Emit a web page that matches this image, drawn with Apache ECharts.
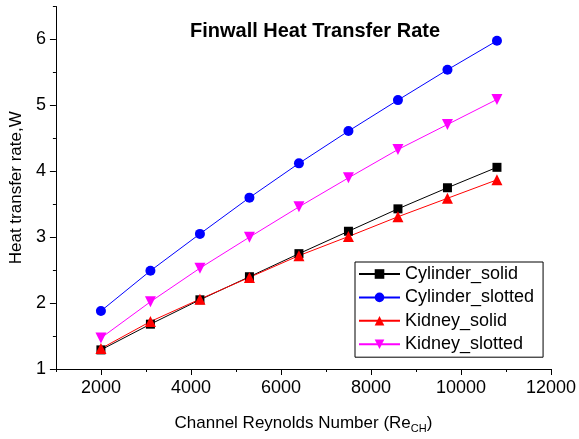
<!DOCTYPE html>
<html>
<head>
<meta charset="utf-8">
<script src="https://cdn.jsdelivr.net/npm/echarts@6/dist/echarts.min.js"></script>
<style>html,body{margin:0;padding:0;background:#fff}#c{width:579px;height:439px}</style>
</head>
<body>
<div id="c"></div>
<script>
var reynolds = [2000, 3100, 4200, 5300, 6400, 7500, 8600, 9700, 10800];
var cylinderSolid = [1.29, 1.68, 2.05, 2.40, 2.75, 3.09, 3.43, 3.75, 4.06];
var cylinderSlotted = [1.88, 2.49, 3.05, 3.60, 4.12, 4.61, 5.08, 5.54, 5.98];
var kidneySolid = [1.31, 1.72, 2.06, 2.39, 2.72, 3.01, 3.31, 3.59, 3.87];
var kidneySlotted = [1.47, 2.02, 2.53, 3.00, 3.46, 3.90, 4.33, 4.71, 5.09];
var xMajorTicks = [2000, 4000, 6000, 8000, 10000, 12000];
var xMinorTicks = [1000, 3000, 5000, 7000, 9000, 11000];
var yMajorTicks = [1, 2, 3, 4, 5, 6];
var yMinorTicks = [1.5, 2.5, 3.5, 4.5, 5.5, 6.5];

function pairs(vals) { return reynolds.map(function (x, i) { return [x, vals[i]]; }); }

var font = '"Liberation Sans", Arial, sans-serif';
var chart = echarts.init(document.getElementById('c'));
var axisLine = { show: true, lineStyle: { color: '#000', width: 1 } };
chart.setOption({
  animation: false,
  textStyle: { fontFamily: font },
  title: {
    text: 'Finwall Heat Transfer Rate',
    left: 310, top: 16, textAlign: 'center',
    textStyle: { fontFamily: font, fontSize: 20, fontWeight: 'bold', color: '#000' }
  },
  grid: { left: 55, right: 27, top: 6.5, bottom: 64, containLabel: false },
  legend: {
    orient: 'vertical', left: 355, top: 262,
    itemWidth: 41, itemHeight: 12, itemGap: 5.4,
    padding: [3, 9, 4, 3],
    borderColor: '#000', borderWidth: 1,
    textStyle: { fontFamily: font, fontSize: 18, lineHeight: 18, color: '#000' },
    data: ['Cylinder_solid', 'Cylinder_slotted', 'Kidney_solid', 'Kidney_slotted']
  },
  xAxis: [{
    type: 'value', min: 1000, max: 12000, interval: 1000,
    axisLine: axisLine,
    axisTick: { show: true, length: 6, customValues: xMajorTicks, lineStyle: { color: '#000' } },
    axisLabel: { customValues: xMajorTicks, fontSize: 18, color: '#000', margin: 10, fontFamily: font,
      formatter: function (v) { return String(v); } },
    splitLine: { show: false },
    name: 'Channel Reynolds Number (Re{sub|CH})',
    nameLocation: 'middle', nameGap: 44,
    nameTextStyle: { fontSize: 17, color: '#000', fontFamily: font,
      rich: { sub: { fontSize: 11, color: '#000', fontFamily: font, padding: [10, 0, 0, 0] } } }
  }, {
    type: 'value', min: 1000, max: 12000, interval: 1000, position: 'bottom',
    axisLine: { show: false },
    axisTick: { show: true, length: 3, customValues: xMinorTicks, lineStyle: { color: '#000' } },
    axisLabel: { show: false }, splitLine: { show: false }
  }],
  yAxis: [{
    type: 'value', min: 1, max: 6.5, interval: 1,
    axisLine: axisLine,
    axisTick: { show: true, length: 6, customValues: yMajorTicks, lineStyle: { color: '#000' } },
    axisLabel: { customValues: yMajorTicks, fontSize: 18, color: '#000', margin: 10, fontFamily: font },
    splitLine: { show: false },
    name: 'Heat transfer rate,W',
    nameLocation: 'middle', nameGap: 19,
    nameTextStyle: { fontSize: 17, color: '#000', fontFamily: font }
  }, {
    type: 'value', min: 1, max: 6.5, interval: 1, position: 'left',
    axisLine: { show: false },
    axisTick: { show: true, length: 3, customValues: yMinorTicks, lineStyle: { color: '#000' } },
    axisLabel: { show: false }, splitLine: { show: false }
  }],
  series: [
    { name: 'Cylinder_solid', type: 'line', data: pairs(cylinderSolid), symbol: 'rect', symbolSize: 9,
      itemStyle: { color: '#000' }, lineStyle: { color: '#000', width: 1 } },
    { name: 'Cylinder_slotted', type: 'line', data: pairs(cylinderSlotted), symbol: 'circle', symbolSize: 10,
      itemStyle: { color: '#0000ff' }, lineStyle: { color: '#0000ff', width: 1 } },
    { name: 'Kidney_solid', type: 'line', data: pairs(kidneySolid), symbol: 'triangle', symbolSize: 11,
      itemStyle: { color: '#ff0000' }, lineStyle: { color: '#ff0000', width: 1 } },
    { name: 'Kidney_slotted', type: 'line', data: pairs(kidneySlotted), symbol: 'triangle', symbolRotate: 180, symbolSize: 11,
      itemStyle: { color: '#ff00ff' }, lineStyle: { color: '#ff00ff', width: 1 } }
  ]
});
</script>
</body>
</html>
